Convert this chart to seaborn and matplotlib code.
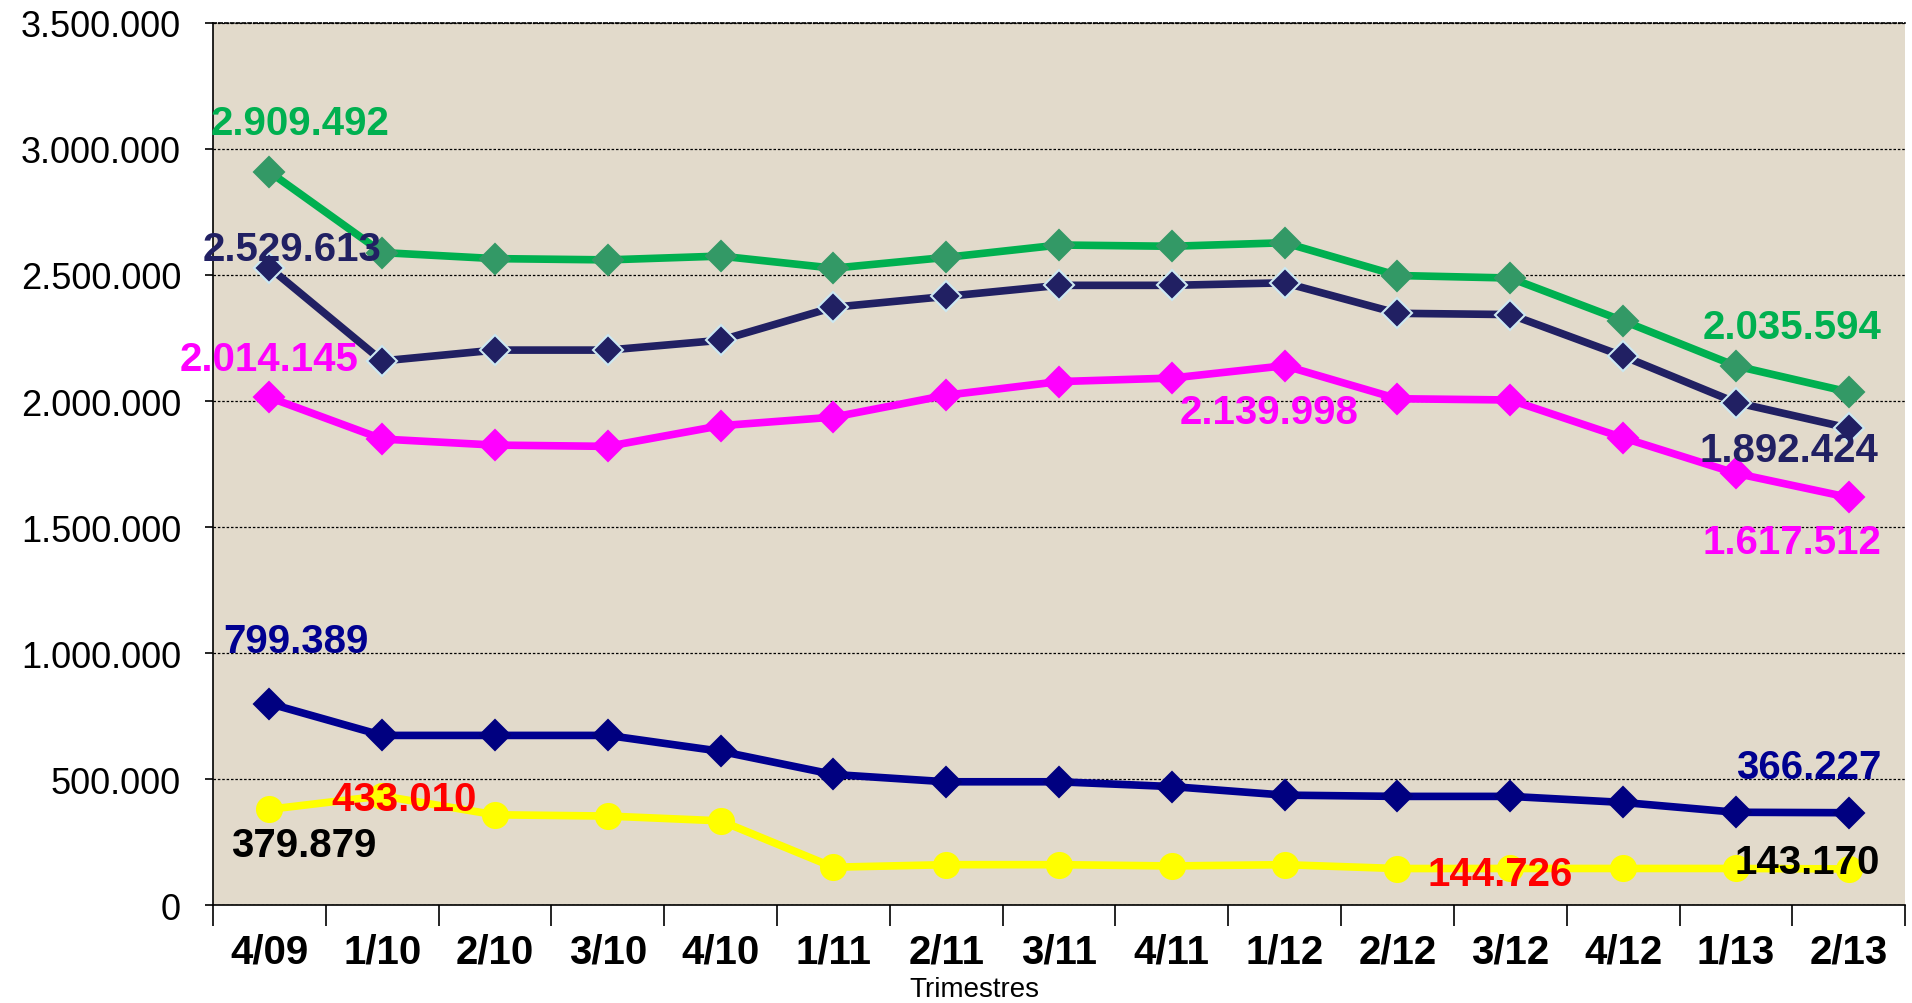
import numpy as np
import pandas as pd
import matplotlib
matplotlib.use('Agg')
import matplotlib.pyplot as plt
import seaborn as sns
from matplotlib.ticker import FuncFormatter

## DATA
trimestres = ['4/09', '1/10', '2/10', '3/10', '4/10', '1/11', '2/11', '3/11',
              '4/11', '1/12', '2/12', '3/12', '4/12', '1/13', '2/13']
verde = [2909492, 2589000, 2565000, 2560000, 2575000, 2527000, 2570000, 2619000,
         2614000, 2628000, 2498000, 2488000, 2318000, 2139000, 2035594]
azul_oscuro = [2529613, 2159000, 2202000, 2202000, 2241000, 2372000, 2415000, 2459000,
               2459000, 2469000, 2348000, 2343000, 2178000, 1994000, 1892424]
magenta = [2014145, 1849000, 1825000, 1820000, 1902000, 1936000, 2023000, 2077000,
           2091000, 2139998, 2009000, 2004000, 1854000, 1713000, 1617512]
azul = [799389, 673000, 673000, 673000, 610000, 518000, 489000, 489000,
        470000, 436000, 431000, 431000, 407000, 368000, 366227]
amarillo = [379879, 433010, 358000, 353000, 334000, 150000, 160000, 160000,
            155000, 160000, 144726, 145000, 145000, 145000, 143170]

series = {'verde': verde, 'azul_oscuro': azul_oscuro, 'magenta': magenta,
          'azul': azul, 'amarillo': amarillo}

# styles per series: line colour, marker, marker face, marker edge
estilos = {
    'verde':       ('#00B050', 'D', '#339966', '#339966'),
    'azul_oscuro': ('#212063', 'D', '#212063', '#CDE9F2'),
    'magenta':     ('#FF00FF', 'D', '#FF00FF', '#FF00FF'),
    'azul':        ('#000090', 'D', '#000080', '#000080'),
    'amarillo':    ('#FFFF00', 'o', '#FFFF00', '#FFFF00'),
}

# data labels: (series, index, text colour, offset x pt, offset y pt)
etiquetas = [
    ('verde', 0, '#00B050', 22, 35),
    ('azul_oscuro', 0, '#212063', 16, 13),
    ('magenta', 0, '#FF00FF', 0, 28),
    ('magenta', 9, '#FF00FF', -11, -33),
    ('verde', 14, '#00B050', -41, 47),
    ('azul_oscuro', 14, '#212063', -43, -16),
    ('magenta', 14, '#FF00FF', -41, -32),
    ('azul', 0, '#000090', 19, 45),
    ('amarillo', 1, '#FF0000', 16, -2),
    ('amarillo', 0, '#000000', 25, -26),
    ('amarillo', 10, '#FF0000', 74, -4),
    ('amarillo', 14, '#000000', -30, 5),
    ('azul', 14, '#000090', -29, 33),
]

def fmt(v):
    return f'{int(round(v)):,}'.replace(',', '.')

rows = []
for name, vals in series.items():
    for i, v in enumerate(vals):
        rows.append({'serie': name, 'x': i, 'valor': v})
df = pd.DataFrame(rows)

sns.set_style('ticks')
plt.rcParams['font.family'] = ['Liberation Sans', 'DejaVu Sans']
plt.rcParams['text.color'] = 'black'
plt.rcParams['xtick.color'] = 'black'
plt.rcParams['ytick.color'] = 'black'
plt.rcParams['axes.labelcolor'] = 'black'

fig = plt.figure(figsize=(19.12, 10.04), dpi=100)
fig.patch.set_facecolor('white')
ax = fig.add_axes([0.1114, 0.0976, 0.885, 0.8785])
ax.set_facecolor('#E2DACB')

for name in ['verde', 'azul_oscuro', 'magenta', 'azul', 'amarillo']:
    color, mk, mfc, mec = estilos[name]
    sub = df[df['serie'] == name]
    sns.lineplot(data=sub, x='x', y='valor', ax=ax, color=color, lw=5.5,
                 marker=mk, markersize=15 if mk == 'D' else 18,
                 markerfacecolor=mfc, markeredgecolor=mec, markeredgewidth=1.5,
                 zorder=3, legend=False)

for name, i, col, dx, dy in etiquetas:
    v = series[name][i]
    ax.annotate(fmt(v), xy=(i, v), xytext=(dx, dy), textcoords='offset points',
                ha='center', va='center', color=col, fontsize=29,
                fontweight='bold', zorder=5)

ax.set_xlim(-0.5, len(trimestres) - 0.5)
ax.set_ylim(0, 3500000)

# x axis: tick marks on category borders, labels centred
ax.set_xticks(np.arange(-0.5, len(trimestres), 1.0))
ax.set_xticklabels([])
ax.set_xticks(np.arange(len(trimestres)), minor=True)
ax.set_xticklabels(trimestres, minor=True, fontsize=29, fontweight='bold')
ax.tick_params(axis='x', which='major', direction='out', length=15, width=1.2, color='black')
ax.tick_params(axis='x', which='minor', length=0, pad=20)

ax.set_yticks(np.arange(0, 3500001, 500000))
ax.yaxis.set_major_formatter(FuncFormatter(lambda v, p: fmt(v)))
ax.tick_params(axis='y', direction='out', length=6, width=1.2, labelsize=26, pad=17)

ax.grid(axis='y', color='black', linestyle=(0, (2, 1.5)), linewidth=0.9)
ax.set_axisbelow(True)

ax.spines['right'].set_visible(False)
ax.spines['top'].set_linestyle((0, (2, 1.5)))
for s in ['left', 'bottom', 'top']:
    ax.spines[s].set_linewidth(1.2)
    ax.spines[s].set_color('black')

ax.set_xlabel('Trimestres', fontsize=20, va='bottom')
ax.xaxis.set_label_coords(0.45, -0.110)
ax.set_ylabel('')

fig.savefig('out.png', dpi=100)
